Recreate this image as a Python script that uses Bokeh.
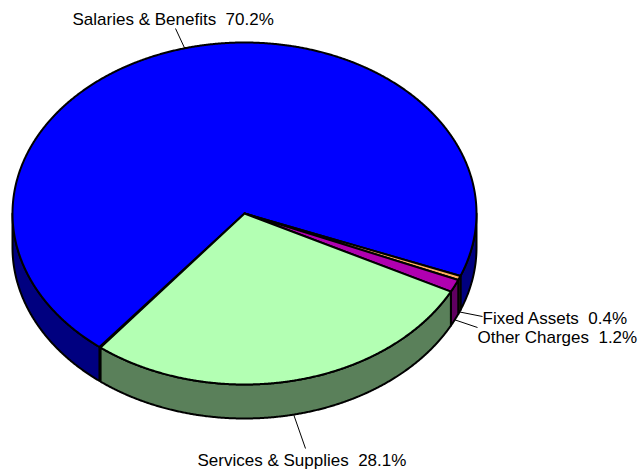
import numpy as np
from bokeh.plotting import figure
from bokeh.models import Range1d, ColumnDataSource
from bokeh.core.properties import value
from bokeh.embed import file_html
from bokeh.resources import INLINE

# Budget share by category (percent)
categories = ["Salaries & Benefits", "Fixed Assets", "Other Charges", "Services & Supplies"]
shares = [70.2, 0.4, 1.2, 28.1]
top_colors = ["#0000FF", "#FFB060", "#B000B0", "#B3FFB3"]
side_colors = ["#000080", "#806030", "#600060", "#5A805A"]

# Label placement (screen pixels): left x, text bottom y, leader end point
label_x = [72, 482, 477, 197]
label_y = [28, 327, 346, 469]
leader_end = [(175, 28), (482, 316), (477, 327), (305, 448)]

# Pie geometry in screen pixels (y grows downward)
CX, CY, RX, RY, DEPTH = 244.0, 213.0, 232.0, 171.0, 34.0
START_ANGLE = 231.3  # degrees, slices run clockwise from here


def rim(angles, dy=0.0):
    a = np.radians(angles)
    return CX + RX * np.cos(a), CY - RY * np.sin(a) + dy


def arc(a0, a1, step=0.25):
    n = max(2, int(abs(a1 - a0) / step) + 1)
    return np.linspace(a0, a1, n)


W, H = 642, 471
p = figure(width=W, height=H, output_backend="svg", toolbar_location=None,
           x_range=Range1d(0, W), y_range=Range1d(H, 0), min_border=0)
p.axis.visible = False
p.grid.visible = False
p.outline_line_color = None
p.background_fill_color = "white"
p.border_fill_color = "white"

# slice angle spans
spans = []
a = START_ANGLE
for v in shares:
    a_end = a - v * 3.6
    spans.append((a_end, a))
    a = a_end

# outer walls: only the front half (screen bottom) is visible
side_xs, side_ys, side_fill = [], [], []
for (lo, hi), col in zip(spans, side_colors):
    for k in (-1, 0, 1):
        s0, s1 = 180 + 360 * k, 360 + 360 * k
        a0, a1 = max(lo, s0), min(hi, s1)
        if a1 - a0 > 1e-6:
            ang = arc(a0, a1)
            tx, ty = rim(ang)
            bx, by = rim(ang[::-1], DEPTH)
            side_xs.append(list(np.concatenate([tx, bx])))
            side_ys.append(list(np.concatenate([ty, by])))
            side_fill.append(col)

p.patches(xs="xs", ys="ys", fill_color="fill", line_color="black", line_width=2,
          line_join="round",
          source=ColumnDataSource(dict(xs=side_xs, ys=side_ys, fill=side_fill)))

# top faces
top_xs, top_ys = [], []
for (lo, hi) in spans:
    ang = arc(hi, lo)
    tx, ty = rim(ang)
    top_xs.append([CX] + list(tx))
    top_ys.append([CY] + list(ty))

p.patches(xs="xs", ys="ys", fill_color="fill", line_color="black", line_width=2,
          line_join="round",
          source=ColumnDataSource(dict(xs=top_xs, ys=top_ys, fill=top_colors)))

# leader lines and labels (non-breaking space keeps the double gap)
for (lo, hi), name, v, lx, ly, (ex, ey) in zip(spans, categories, shares,
                                                label_x, label_y, leader_end):
    mid = (lo + hi) / 2
    front = np.sin(np.radians(mid)) < 0
    sx, sy = rim(np.array([mid]), DEPTH if front else 0.0)
    p.line([sx[0], ex], [sy[0], ey], line_color="black", line_width=1)
    p.text(x=[lx], y=[ly], text=[f"{name}\u00a0\u00a0{v:.1f}%"], text_align="left",
           text_baseline="bottom", text_font=value("Liberation Sans"),
           text_font_size="17px", text_color="black")

open("out.html", "w").write(file_html(p, INLINE))
